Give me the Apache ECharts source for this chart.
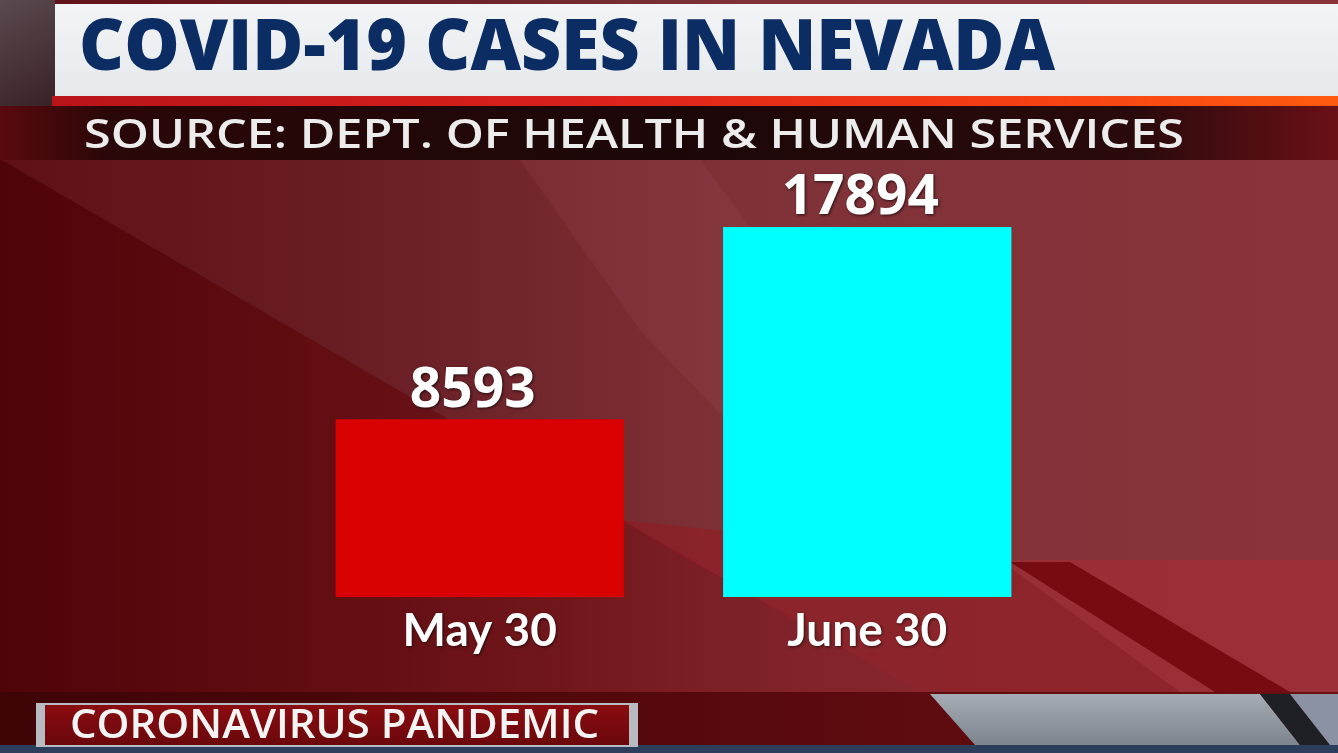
<!DOCTYPE html>
<html>
<head>
<meta charset="utf-8">
<script src="https://cdn.jsdelivr.net/npm/echarts@6/dist/echarts.min.js"></script>
<style>
html,body{margin:0;padding:0;background:#6a1418;}
#chart{width:1338px;height:753px;}
</style>
</head>
<body>
<div id="chart"></div>
<script>
// ---- data ----
const categories = ['May 30', 'June 30'];
const caseValues = [8593, 17894];
const barColors = ['#d80000', '#00ffff'];
const titleText = 'COVID-19 CASES IN NEVADA';
const sourceText = 'SOURCE: DEPT. OF HEALTH & HUMAN SERVICES';
const tagText = 'CORONAVIRUS PANDEMIC';

const chart = echarts.init(document.getElementById('chart'));

const lg = (x1, y1, x2, y2, stops) => ({type: 'linear', x: x1, y: y1, x2: x2, y2: y2,
  colorStops: stops.map(c => ({offset: c[0], color: c[1]}))});

const bg = [
  // base background
  {type: 'rect', z: -10, shape: {x: 0, y: 0, width: 1338, height: 753},
   style: {fill: lg(0, 0, 1, 0, [[0, '#5e1016'], [0.3, '#6a2026'], [0.55, '#7e3238'], [1, '#8a333a']])}},
  // soft lighter band upper middle
  {type: 'polygon', z: -9, shape: {points: [[520, 160], [700, 160], [1000, 560], [860, 560], [640, 330]]},
   style: {fill: 'rgba(160,80,90,0.18)'}},
  // dark lower-left region below diagonal
  {type: 'polygon', z: -9, shape: {points: [[0, 159], [919, 692], [0, 692]]},
   style: {fill: lg(0, 0, 1, 0, [[0, 'rgba(72,0,4,0.75)'], [0.6, 'rgba(110,8,12,0.55)'], [1, 'rgba(140,20,24,0.4)']])}},
  // red lower middle area
  {type: 'polygon', z: -9, shape: {points: [[620, 520], [1000, 560], [1180, 692], [919, 692]]},
   style: {fill: 'rgba(150,26,32,0.55)'}},
  // right lower red region
  {type: 'polygon', z: -9, shape: {points: [[1000, 560], [1338, 560], [1338, 692], [1180, 692]]},
   style: {fill: 'rgba(170,44,52,0.55)'}},
  // dark diagonal stripe lower right
  {type: 'polygon', z: -8, shape: {points: [[1010, 562], [1070, 562], [1290, 692], [1215, 692]]},
   style: {fill: 'rgba(112,6,10,0.85)'}},
  // top-left corner
  {type: 'rect', z: -8, shape: {x: 0, y: 0, width: 55, height: 106},
   style: {fill: lg(0, 0, 1, 1, [[0, '#5a4a50'], [1, '#3a2226']])}},
  // title banner
  {type: 'rect', z: -5, shape: {x: 55, y: 4, width: 1283, height: 93},
   style: {fill: lg(0, 0, 0, 1, [[0, '#f2f4f6'], [1, '#e6e9ec']])}},
  // orange rule
  {type: 'rect', z: -5, shape: {x: 52, y: 96, width: 1286, height: 10},
   style: {fill: lg(0, 0, 1, 0, [[0, '#b8141a'], [0.4, '#d8201c'], [0.7, '#f23a14'], [1, '#ff5a10']])}},
  // source bar
  {type: 'rect', z: -5, shape: {x: 0, y: 106, width: 1338, height: 54},
   style: {fill: lg(0, 0, 1, 0, [[0, '#5a0a0e'], [0.08, '#2a0708'], [0.5, '#1c0708'], [0.85, '#2a0a0c'], [1, '#6a1016']])}},
  // bottom dark strip
  {type: 'polygon', z: -5, shape: {points: [[0, 692], [1338, 692], [1338, 745], [0, 745]]},
   style: {fill: lg(0, 0, 1, 0, [[0, '#3e0406'], [0.6, '#5a0a0e'], [1, '#6a1014']])}},
  // bottom gray slanted area
  {type: 'polygon', z: -4, shape: {points: [[930, 694], [1260, 694], [1300, 745], [975, 745]]},
   style: {fill: lg(0, 0, 0, 1, [[0, '#a6acb4'], [1, '#7e848e']])}},
  {type: 'polygon', z: -4, shape: {points: [[1260, 694], [1290, 694], [1330, 745], [1300, 745]]},
   style: {fill: '#1e2026'}},
  {type: 'polygon', z: -4, shape: {points: [[1290, 694], [1338, 694], [1338, 745], [1330, 745]]},
   style: {fill: '#8a92a4'}},
  // bottom blue strip
  {type: 'rect', z: -4, shape: {x: 0, y: 745, width: 1338, height: 8},
   style: {fill: '#2c3e5c'}},
  // tag box
  {type: 'rect', z: -3, shape: {x: 36, y: 703, width: 602, height: 44},
   style: {fill: '#b8bcc2'}},
  {type: 'rect', z: -2, shape: {x: 45, y: 705, width: 584, height: 40},
   style: {fill: lg(0, 0, 0, 1, [[0, '#8a0c10'], [1, '#6a080c']])}},
  // texts
  {type: 'text', z: 10, x: 79, y: 50, scaleX: 0.995, style: {text: titleText, fill: '#0c2c64',
   font: '800 70px "Open Sans", sans-serif', textVerticalAlign: 'middle'}},
  {type: 'text', z: 10, x: 84, y: 137, scaleX: 1.245, style: {text: sourceText, fill: '#ececec',
   font: '600 39px "Open Sans", sans-serif', textVerticalAlign: 'middle'}},
  {type: 'text', z: 10, x: 70, y: 727, scaleX: 1.075, style: {text: tagText, fill: '#f4f4f4',
   font: '600 39px "Open Sans", sans-serif', textVerticalAlign: 'middle'}}
];

chart.setOption({
  animation: false,
  backgroundColor: 'transparent',
  graphic: {elements: bg},
  grid: {left: 286, width: 775, top: 183.5, height: 413.5},
  xAxis: {
    type: 'category', data: categories,
    axisLine: {show: false}, axisTick: {show: false},
    axisLabel: {color: '#ffffff', fontSize: 46, fontWeight: 'bold', margin: 11,
      fontFamily: 'Lato, "Liberation Sans", sans-serif',
      textShadowColor: 'rgba(0,0,0,0.6)', textShadowBlur: 3, textShadowOffsetX: 1, textShadowOffsetY: 1}
  },
  yAxis: {type: 'value', min: 0, max: 20000, show: false, splitLine: {show: false}},
  series: [{
    type: 'bar',
    barWidth: '74.4%',
    data: caseValues.map((v, i) => ({value: v, itemStyle: {color: barColors[i]}})),
    label: {show: true, position: 'top', distance: 1, offset: [-7, 0], color: '#ffffff', fontSize: 55,
      fontWeight: 'bold', fontFamily: '"Open Sans", sans-serif',
      textShadowColor: 'rgba(0,0,0,0.7)', textShadowBlur: 3, textShadowOffsetX: 1, textShadowOffsetY: 1}
  }]
});
</script>
</body>
</html>
